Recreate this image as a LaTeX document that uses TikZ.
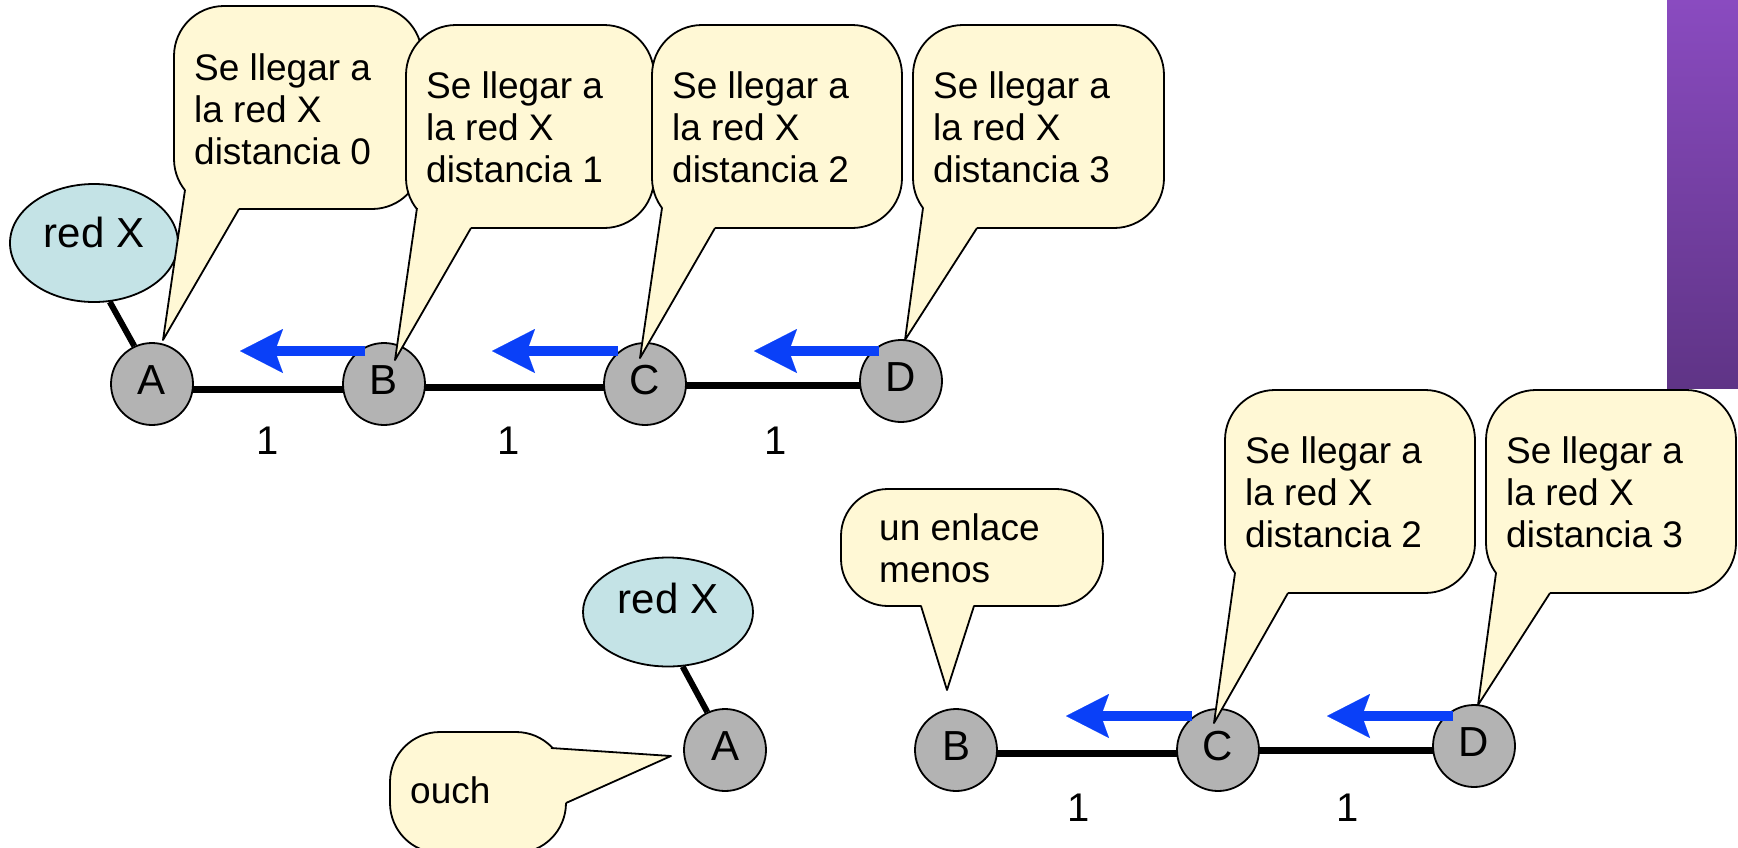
\documentclass[tikz,border=0pt]{standalone}
\usepackage{fontspec}
\setmainfont{Liberation Sans}
\usetikzlibrary{arrows.meta,shapes.geometric,calc}
\pgfdeclarelayer{background}
\pgfsetlayers{background,main}
\definecolor{bubfill}{HTML}{FFF8D5}
\definecolor{nodegray}{HTML}{B3B3B3}
\definecolor{netfill}{HTML}{C4E3E6}
\definecolor{arrblue}{HTML}{0A40F8}
\definecolor{purtop}{HTML}{8A4BC0}
\definecolor{purbot}{HTML}{5F3486}
\tikzset{
  router/.style={circle, draw, line width=1.8pt, fill=nodegray, minimum size=82pt, inner sep=0pt, text depth=8pt, font=\fontsize{42}{48}\selectfont},
  net/.style={ellipse, draw, line width=1.8pt, fill=netfill, inner sep=0pt, font=\fontsize{42}{48}\selectfont},
  link/.style={line width=7pt},
  stub/.style={line width=6pt},
  bluearr/.style={draw=arrblue, line width=10pt, -{Stealth[length=43pt,width=44pt,inset=8pt,line width=0.1pt]}},
  bubbox/.style={draw, fill=bubfill, line width=1.8pt},
  bubline/.style={line width=1.8pt, line join=round},
  bubtext/.style={anchor=north west, inner sep=0pt, align=left, font=\fontsize{37}{42}\selectfont},
  weight/.style={inner sep=0pt, font=\fontsize{40}{46}\selectfont},
}
% #1,#2 rectangle corners, #3 tail base A, #4 tail base B, #5 tip, #6 inner point, #7 radius
\newcommand\mybubble[7]{%
  \filldraw[bubbox, rounded corners=#7] #1 rectangle #2;
  \fill[bubfill] #5 -- #3 -- #6 -- #4 -- cycle;
  \draw[bubline] #3 -- #5 -- #4;
}
\begin{document}
\begin{tikzpicture}[x=1pt,y=-1pt]
\useasboundingbox (0,0) rectangle (1738,847);
\clip (0,0) rectangle (1738,847);
\begin{pgfonlayer}{background}
\fill[white] (0,0) rectangle (1738,847);
\end{pgfonlayer}

% purple bar
\shade[top color=purtop, bottom color=purbot] (1667,0) rectangle (1738,388);

% ---------- top row ----------
\node[net, minimum width=168pt, minimum height=118pt, text depth=22pt] (rx1) at (94,243) {red X};
\node[router] (A1) at (152,384) {A};
\node[router] (B1) at (384,384) {B};
\node[router] (C1) at (645,384) {C};
\node[router] (D1) at (901,381) {D};

\begin{pgfonlayer}{background}
\draw[link] ([yshift=-5pt]A1.center) -- ([yshift=-5pt]B1.center);
\draw[link] ([yshift=-3pt]B1.center) -- ([yshift=-3pt]C1.center);
\draw[link] ([yshift=-1.5pt]C1.center) -- ([yshift=-4.5pt]D1.center);
\end{pgfonlayer}
\draw[stub] (rx1.-75) -- (A1.115);

\node[weight] (w1) at (268,441) {1};
\node[weight] (w2) at (509,441) {1};
\node[weight] (w3) at (776,441) {1};

\draw[bluearr] ($(B1.center)+(-19,-33)$) -- ++(-125,0);
\draw[bluearr] ($(C1.center)+(-27,-33)$) -- ++(-126,0);
\draw[bluearr] ($(D1.center)+(-22,-30)$) -- ++(-125,0);

\mybubble{(174,6)}{(422,209)}{(185,190)}{(239,209)}{(163,340)}{(232,175)}{50}
\node[bubtext] (t0) at (194,53) {Se llegar a\\la red X\\distancia 0};
\mybubble{(406,25)}{(654,228)}{(417,208)}{(471,228)}{(395,360)}{(464,194)}{50}
\node[bubtext] (t1) at (426,71) {Se llegar a\\la red X\\distancia 1};
\mybubble{(652,25)}{(902,228)}{(662,208)}{(715,228)}{(640,358)}{(708,194)}{50}
\node[bubtext] (t2) at (672,71) {Se llegar a\\la red X\\distancia 2};
\mybubble{(913,25)}{(1164,228)}{(923,208)}{(977,228)}{(905,340)}{(970,194)}{50}
\node[bubtext] (t3) at (933,71) {Se llegar a\\la red X\\distancia 3};

% ---------- bottom row ----------
\node[net, minimum width=170pt, minimum height=109pt, text depth=28pt] (rx2) at (668,612) {red X};
\node[router] (A2) at (725,750) {A};
\node[router] (B2) at (956,750) {B};
\node[router] (C2) at (1218,750) {C};
\node[router] (D2) at (1474,746) {D};

\begin{pgfonlayer}{background}
\draw[link] ([yshift=-3pt]B2.center) -- ([yshift=-3pt]C2.center);
\draw[link] (C2.center) -- ([yshift=-4pt]D2.center);
\end{pgfonlayer}
\draw[stub] (rx2.-75) -- (A2.115);

\node[weight] (w4) at (1079,808) {1};
\node[weight] (w5) at (1348,808) {1};

\draw[bluearr] ($(C2.center)+(-26,-34)$) -- ++(-126,0);
\draw[bluearr] ($(D2.center)+(-21,-30)$) -- ++(-126,0);

\mybubble{(841,489)}{(1103,606)}{(921,606)}{(974,606)}{(947,690)}{(947,585)}{47}
\node[bubtext] (t4) at (879,513) {un enlace\\menos};
\mybubble{(1225,390)}{(1475,593)}{(1235,573)}{(1288,593)}{(1214,723)}{(1281,559)}{50}
\node[bubtext] (t5) at (1245,436) {Se llegar a\\la red X\\distancia 2};
\mybubble{(1486,390)}{(1736,593)}{(1496,573)}{(1550,593)}{(1478,705)}{(1543,559)}{50}
\node[bubtext] (t6) at (1506,436) {Se llegar a\\la red X\\distancia 3};
\mybubble{(390,732)}{(566,853)}{(551,748)}{(566,803)}{(671,756)}{(530,790)}{50}
\node[bubtext] (t7) at (410,776) {ouch};
\end{tikzpicture}
\end{document}
